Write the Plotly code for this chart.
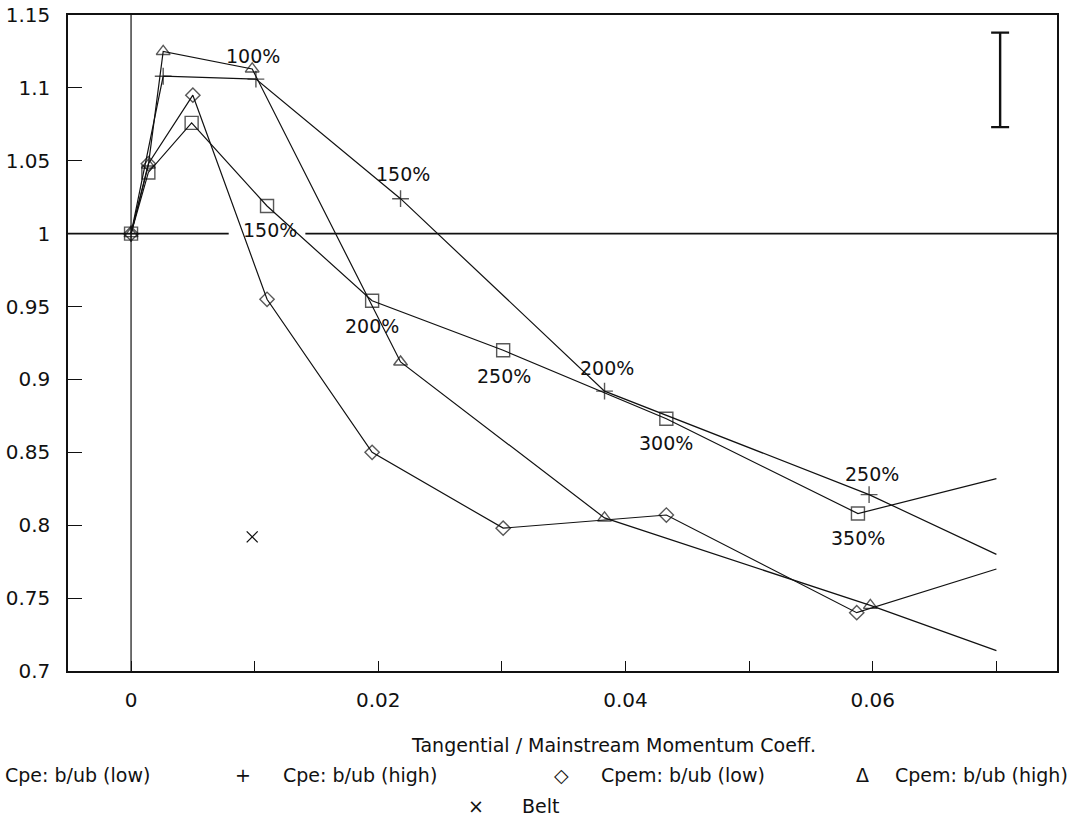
import plotly.graph_objects as go

# ---- data -------------------------------------------------------------
# Cpe: b/ub (low)  (open squares)
cpe_low_x = [0.0, 0.0014, 0.0049, 0.0110, 0.0195, 0.0301, 0.0433, 0.0588, 0.0700]
cpe_low_y = [1.000, 1.042, 1.076, 1.019, 0.954, 0.920, 0.873, 0.808, 0.832]

# Cpe: b/ub (high)  (plus)
cpe_high_x = [0.0, 0.0026, 0.0101, 0.0218, 0.0383, 0.0597, 0.0700]
cpe_high_y = [1.000, 1.108, 1.106, 1.024, 0.892, 0.821, 0.780]

# Cpem: b/ub (low)  (open diamonds)
cpem_low_x = [0.0, 0.0014, 0.0050, 0.0110, 0.0195, 0.0301, 0.0433, 0.0587, 0.0700]
cpem_low_y = [1.000, 1.048, 1.095, 0.955, 0.850, 0.798, 0.807, 0.740, 0.770]

# Cpem: b/ub (high)  (open triangles)
cpem_high_x = [0.0, 0.0014, 0.0026, 0.0098, 0.0218, 0.0383, 0.0598, 0.0700]
cpem_high_y = [1.000, 1.047, 1.125, 1.113, 0.912, 0.805, 0.745, 0.714]

# Belt
belt_x = [0.0098]
belt_y = [0.792]

# representative uncertainty bar
err_x = [0.0703]
err_y = [1.1055]
err_half = [0.0324]

# blowing-rate labels: (text, x, y)
pct_labels_high = [("100%", 0.0099, 1.1216), ("150%", 0.0220, 1.0407),
                   ("200%", 0.0385, 0.9080), ("250%", 0.0599, 0.8354)]
pct_labels_low = [("150%", 0.0112, 1.0023), ("200%", 0.0195, 0.9366),
                  ("250%", 0.0302, 0.9023), ("300%", 0.0433, 0.8565),
                  ("350%", 0.0588, 0.7912)]

x_ticks = [0.0, 0.01, 0.02, 0.03, 0.04, 0.05, 0.06, 0.07]
x_ticktext = ["0", "", "0.02", "", "0.04", "", "0.06", ""]
y_ticks = [0.7, 0.75, 0.8, 0.85, 0.9, 0.95, 1.0, 1.05, 1.1, 1.15]
y_ticktext = ["0.7", "0.75", "0.8", "0.85", "0.9", "0.95", "1", "1.05", "1.1", "1.15"]

X_RANGE = [-0.0051, 0.0749]
Y_RANGE = [0.7, 1.15]

# ---- layout geometry ---------------------------------------------------
W, H = 1073, 825
ML, MR, MT, MB = 68, 16, 15, 154

def paper_x(px):
    return (px - ML) / (W - ML - MR)

def paper_y(py):
    return (H - MB - py) / (H - MT - MB)

INK = "#111111"
TICK_FONT = dict(family="DejaVu Sans", size=20, color=INK)
LABEL_FONT = dict(family="DejaVu Sans", size=19, color=INK)
CAPTION_FONT = dict(family="DejaVu Sans", size=19, color=INK)


def series(x, y, symbol, size, name):
    sizes = [size] * (len(x) - 1) + [0]
    return go.Scatter(
        x=x, y=y, mode="lines+markers", name=name, showlegend=False,
        line=dict(color=INK, width=1.2),
        marker=dict(symbol=symbol, size=sizes, color=INK,
                    line=dict(color=INK, width=1.4)),
    )


fig = go.Figure()

# reference lines at x = 0 and y = 1 (the y = 1 line is broken behind a label)
fig.add_shape(type="line", xref="x", yref="paper", x0=0, x1=0, y0=0, y1=1,
              line=dict(color=INK, width=1.2), layer="below")
fig.add_shape(type="line", xref="x", yref="y", x0=X_RANGE[0], x1=0.0079, y0=1, y1=1,
              line=dict(color=INK, width=1.6), layer="below")
fig.add_shape(type="line", xref="x", yref="y", x0=0.0141, x1=X_RANGE[1], y0=1, y1=1,
              line=dict(color=INK, width=1.6), layer="below")

fig.add_trace(series(cpe_low_x, cpe_low_y, "square-open", 13, "Cpe: b/ub (low)"))
fig.add_trace(series(cpe_high_x, cpe_high_y, "cross-thin-open", 12, "Cpe: b/ub (high)"))
fig.add_trace(series(cpem_low_x, cpem_low_y, "diamond-open", 11, "Cpem: b/ub (low)"))
fig.add_trace(series(cpem_high_x, cpem_high_y, "triangle-up-open", 12, "Cpem: b/ub (high)"))
fig.add_trace(go.Scatter(
    x=belt_x, y=belt_y, mode="markers", name="Belt", showlegend=False,
    marker=dict(symbol="x-thin-open", size=11, color=INK, line=dict(color=INK, width=1.3)),
))
fig.add_trace(go.Scatter(
    x=err_x, y=err_y, mode="markers", showlegend=False, hoverinfo="skip",
    marker=dict(size=0.1, color="rgba(0,0,0,0)"),
    error_y=dict(type="data", array=err_half, visible=True, color=INK,
                 thickness=2.4, width=9),
))

annotations = []
for text, x, y in pct_labels_high + pct_labels_low:
    annotations.append(dict(x=x, y=y, xref="x", yref="y", text=text, showarrow=False,
                            font=LABEL_FONT, xanchor="center", yanchor="middle"))

# axis caption
annotations.append(dict(x=paper_x(613), y=paper_y(745), xref="paper", yref="paper",
                        text="Tangential / Mainstream Momentum Coeff.", showarrow=False,
                        font=CAPTION_FONT, xanchor="center", yanchor="middle"))

# key below the chart: (glyph, glyph centre px, label, label left px, row y px)
key = [
    (None, None, "Cpe: b/ub (low)", 3, 775),
    ("+", 243, "Cpe: b/ub (high)", 281, 775),
    ("◇", 561, "Cpem: b/ub (low)", 599, 775),
    ("Δ", 862, "Cpem: b/ub (high)", 893, 775),
    ("×", 476, "Belt", 520, 806),
]
for glyph, gx, label, lx, ry in key:
    if glyph is not None:
        annotations.append(dict(x=paper_x(gx), y=paper_y(ry), xref="paper", yref="paper",
                                text=glyph, showarrow=False, font=CAPTION_FONT,
                                xanchor="center", yanchor="middle"))
    annotations.append(dict(x=paper_x(lx), y=paper_y(ry), xref="paper", yref="paper",
                            text=label, showarrow=False, font=CAPTION_FONT,
                            xanchor="left", yanchor="middle"))

fig.update_layout(
    width=W, height=H,
    margin=dict(l=ML, r=MR, t=MT, b=MB, autoexpand=False),
    paper_bgcolor="white", plot_bgcolor="white",
    showlegend=False,
    annotations=annotations,
    xaxis=dict(range=X_RANGE, tickvals=x_ticks, ticktext=x_ticktext,
               ticks="inside", ticklen=10, tickwidth=1.3, tickcolor=INK,
               showgrid=False, zeroline=False, showline=True, linecolor=INK,
               linewidth=1.5, mirror=True, tickfont=TICK_FONT,
               ticklabelstandoff=10),
    yaxis=dict(range=Y_RANGE, tickvals=y_ticks, ticktext=y_ticktext,
               ticks="inside", ticklen=14, tickwidth=1.3, tickcolor=INK,
               showgrid=False, zeroline=False, showline=True, linecolor=INK,
               linewidth=1.5, mirror=True, tickfont=TICK_FONT,
               ticklabelstandoff=12),
)

fig.write_html("out.html")
